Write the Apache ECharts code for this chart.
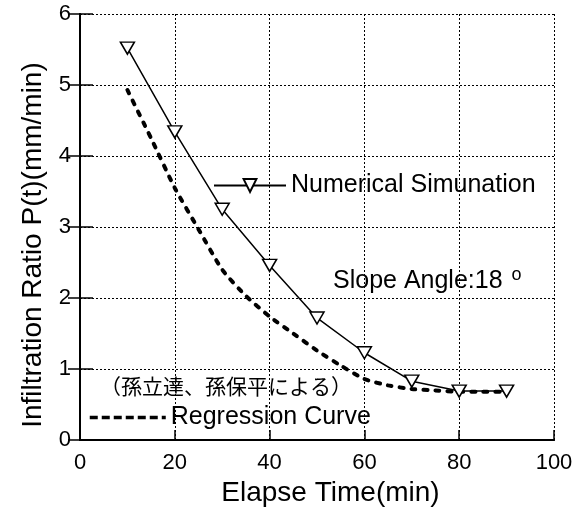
<!DOCTYPE html>
<html>
<head>
<meta charset="utf-8">
<script src="https://cdn.jsdelivr.net/npm/echarts@6/dist/echarts.min.js"></script>
<style>
  html, body { margin: 0; padding: 0; background: #fff; }
  #chart-view { width: 585px; height: 512px; }
</style>
</head>
<body>
<div id="chart-view"></div>
<script>
const simTimes = [10, 20, 30, 40, 50, 60, 70, 80, 90];
const simValues = [5.52, 4.34, 3.25, 2.46, 1.72, 1.23, 0.83, 0.69, 0.69];
const regTimes = [10, 15, 20, 25, 30, 35, 40, 45, 50, 55, 60, 65, 70, 75, 80, 85, 90];
const regValues = [4.93, 4.25, 3.55, 2.97, 2.4, 2.03, 1.74, 1.5, 1.26, 1.05, 0.86, 0.77, 0.72, 0.7, 0.68, 0.68, 0.68];
const xTicks = [0, 20, 40, 60, 80, 100];
const yTicks = [0, 1, 2, 3, 4, 5, 6];

const font = '"Liberation Sans", Arial, sans-serif';
const jpFont = '"Noto Sans CJK JP", sans-serif';
const zip = (xs, ys) => xs.map((x, i) => [x, ys[i]]);

const chart = echarts.init(document.getElementById('chart-view'));

const gridDotted = { show: true, lineStyle: { color: '#000', width: 1, type: [2, 2] } };

chart.setOption({
  animation: false,
  backgroundColor: '#fff',
  grid: { left: 80, right: 31, top: 14, bottom: 69 },
  xAxis: [
    {
      type: 'value',
      min: xTicks[0],
      max: xTicks[xTicks.length - 1],
      interval: 20,
      name: 'Elapse Time(min)',
      nameLocation: 'middle',
      nameGap: 36,
      nameTextStyle: { fontFamily: font, fontSize: 28, color: '#000', padding: [0, 0, 0, 27] },
      axisLine: { lineStyle: { color: '#000', width: 2 } },
      axisTick: { inside: true, length: 10, lineStyle: { color: '#000', width: 1.5 } },
      axisLabel: { fontFamily: font, fontSize: 22, color: '#000', margin: 12 },
      splitLine: gridDotted,
    },
    {
      type: 'value',
      position: 'top',
      min: xTicks[0],
      max: xTicks[xTicks.length - 1],
      interval: 20,
      axisLine: { show: true, lineStyle: { color: '#000', width: 2 } },
      axisTick: { show: false },
      axisLabel: { show: false },
      splitLine: { show: false },
    },
  ],
  yAxis: [
    {
      type: 'value',
      min: yTicks[0],
      max: yTicks[yTicks.length - 1],
      interval: 1,
      name: 'Infiltration Ratio P(t)(mm/min)',
      nameLocation: 'middle',
      nameGap: 33,
      nameTextStyle: { fontFamily: font, fontSize: 28, color: '#000', padding: [0, 36, 0, 0] },
      axisLine: { show: true, lineStyle: { color: '#000', width: 2 } },
      axisTick: { show: true, inside: true, length: 13, lineStyle: { color: '#000', width: 1.5 } },
      axisLabel: { fontFamily: font, fontSize: 22, color: '#000', margin: 9 },
      splitLine: gridDotted,
    },
    {
      type: 'value',
      position: 'right',
      min: yTicks[0],
      max: yTicks[yTicks.length - 1],
      interval: 1,
      axisLine: { show: true, lineStyle: { color: '#000', width: 2 } },
      axisTick: { show: true, inside: true, length: 12, lineStyle: { color: '#000', width: 1.5 } },
      axisLabel: { show: false },
      splitLine: { show: false },
    },
  ],
  legend: [
    {
      data: ['Numerical Simunation'],
      left: 213,
      top: 173,
      padding: 0,
      itemWidth: 72,
      itemHeight: 16,
      textStyle: { fontFamily: font, fontSize: 25, color: '#000' },
    },
    {
      data: [{ name: 'Regression Curve', itemStyle: { opacity: 0 } }],
      left: 88,
      top: 405,
      padding: 0,
      itemWidth: 76,
      itemHeight: 16,
      lineStyle: { type: [8, 4], width: 3.5, cap: 'butt' },
      textStyle: { fontFamily: font, fontSize: 25, color: '#000' },
    },
  ],
  graphic: [
    {
      type: 'text',
      left: 333,
      top: 266,
      style: {
        text: 'Slope Angle:18 {deg|o}',
        font: '25px ' + font,
        fill: '#000',
        rich: { deg: { fontSize: 18, fontFamily: font, verticalAlign: 'top', padding: [0, 0, 12, 2] } },
      },
    },
    {
      type: 'text',
      left: 100,
      top: 376,
      style: { text: '（孫立達、孫保平による）', font: '21px ' + jpFont, fill: '#000' },
    },
  ],
  series: [
    {
      name: 'Regression Curve',
      type: 'line',
      data: zip(regTimes, regValues),
      smooth: 0.2,
      showSymbol: false,
      symbol: 'none',
      lineStyle: { color: '#000', width: 4, type: [4, 8], cap: 'round' },
      itemStyle: { color: '#000' },
      z: 2,
    },
    {
      name: 'Numerical Simunation',
      type: 'line',
      data: zip(simTimes, simValues),
      symbol: 'triangle',
      symbolRotate: 180,
      symbolSize: [14, 12],
      lineStyle: { color: '#000', width: 1.5 },
      itemStyle: { color: '#fff', borderColor: '#000', borderWidth: 1.5 },
      z: 3,
    },
  ],
});
</script>
</body>
</html>
